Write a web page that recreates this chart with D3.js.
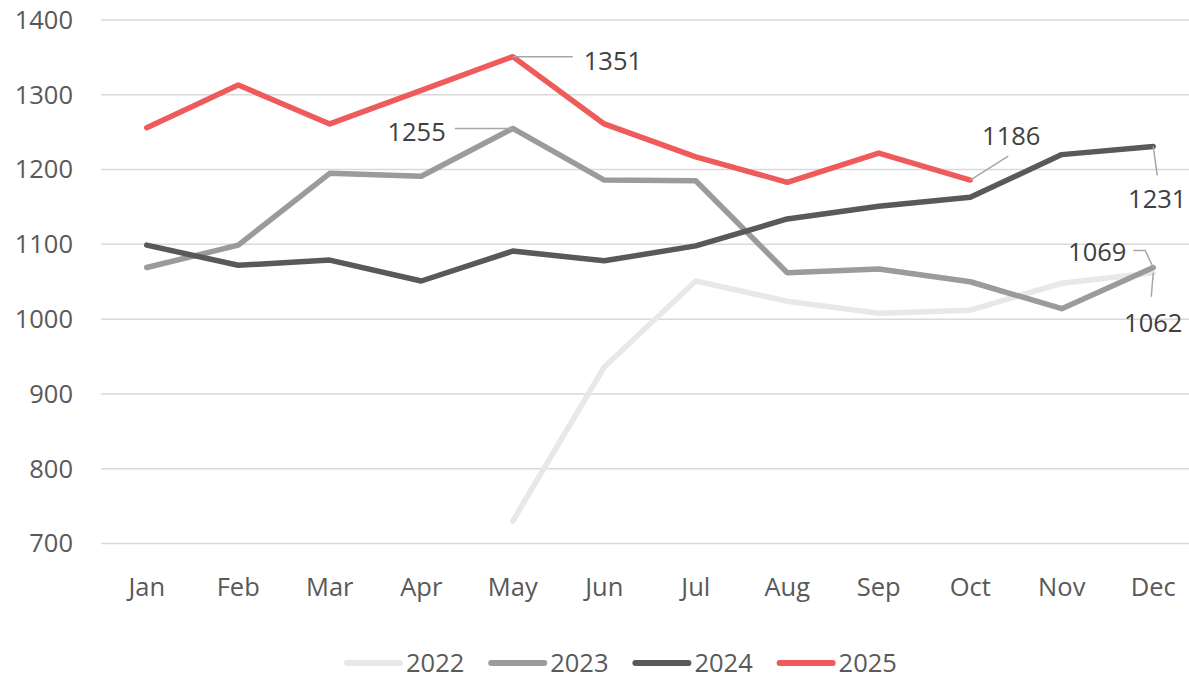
<!DOCTYPE html>
<html>
<head>
<meta charset="utf-8">
<script src="https://cdn.jsdelivr.net/npm/d3@7"></script>
<style>
body{margin:0;background:#fff;}
svg{display:block;font-family:"Open Sans","Noto Sans",sans-serif;}
</style>
</head>
<body>
<svg id="chart" width="1189" height="678"></svg>
<script>
// data
const months=["Jan","Feb","Mar","Apr","May","Jun","Jul","Aug","Sep","Oct","Nov","Dec"];
const yTicks=[700,800,900,1000,1100,1200,1300,1400];
const v2022=[null,null,null,null,730,936,1051,1024,1008,1012,1048,1062];
const v2023=[1069,1099,1195,1191,1255,1186,1185,1062,1067,1050,1014,1069];
const v2024=[1099,1072,1079,1051,1091,1078,1098,1134,1151,1163,1220,1231];
const v2025=[1256,1313,1261,1306,1351,1261,1217,1183,1222,1186,null,null];

const series=[
  {name:"2022",values:v2022,color:"#e8e8e8"},
  {name:"2023",values:v2023,color:"#9b9b9b"},
  {name:"2024",values:v2024,color:"#595959"},
  {name:"2025",values:v2025,color:"#ef5a5a"}
];

// callouts: series, month index, label offset and leader path offsets
const callouts=[
  {s:3,i:4,tx:71,ty:4,anchor:"start",leader:[[0,0],[60,0]]},
  {s:1,i:4,tx:-67,ty:4,anchor:"end",leader:[[0,0],[-58,0]]},
  {s:3,i:9,tx:41,ty:-44,anchor:"middle",leader:[[0,0],[38,-24]]},
  {s:2,i:11,tx:4,ty:53,anchor:"middle",leader:[[0,0],[4,29]]},
  {s:1,i:11,tx:-56,ty:-15,anchor:"middle",leader:[[0,0],[-8,-17],[-20,-17]]},
  {s:0,i:11,tx:0,ty:50,anchor:"middle",leader:[[0,0],[-2,24]]}
];

const fs=25.5;
const svg=d3.select("#chart");
const x=d3.scaleBand().domain(months).range([101,1199]);
const y=d3.scaleLinear().domain([700,1400]).range([543.5,20]);
const cx=m=>x(m)+x.bandwidth()/2;

// gridlines
svg.append("g").selectAll("line").data(yTicks).join("line")
  .attr("x1",101).attr("x2",1199)
  .attr("y1",d=>y(d)).attr("y2",d=>y(d))
  .attr("stroke","#d9d9d9").attr("stroke-width",1.5);

// y labels
svg.append("g").selectAll("text").data(yTicks).join("text")
  .attr("x",73).attr("y",d=>y(d)).attr("dy","0.35em")
  .attr("text-anchor","end").attr("font-size",fs).attr("fill","#595959")
  .text(d=>d);

// x labels
svg.append("g").selectAll("text").data(months).join("text")
  .attr("x",d=>cx(d)).attr("y",596)
  .attr("text-anchor","middle").attr("font-size",fs).attr("fill","#595959")
  .text(d=>d);

const line=d3.line()
  .defined(d=>d.v!=null)
  .x(d=>cx(d.m)).y(d=>y(d.v));

svg.append("g").selectAll("path").data(series).join("path")
  .attr("d",s=>line(s.values.map((v,i)=>({m:months[i],v:v}))))
  .attr("fill","none").attr("stroke",s=>s.color)
  .attr("stroke-width",5.5).attr("stroke-linejoin","round").attr("stroke-linecap","round");

// callouts
const cg=svg.append("g");
callouts.forEach(c=>{
  const px=cx(months[c.i]),py=y(series[c.s].values[c.i]);
  cg.append("path")
    .attr("d",d3.line()(c.leader.map(p=>[px+p[0],py+p[1]])))
    .attr("fill","none").attr("stroke","#a6a6a6").attr("stroke-width",1.5);
  cg.append("text")
    .attr("x",px+c.tx).attr("y",py+c.ty).attr("dy","0.35em")
    .attr("text-anchor",c.anchor).attr("font-size",fs).attr("fill","#404040")
    .text(series[c.s].values[c.i]);
});

// legend
const lg=svg.append("g").attr("transform","translate(347,663)");
const item=lg.selectAll("g").data(series).join("g")
  .attr("transform",(d,i)=>`translate(${i*144.2},0)`);
item.append("line").attr("x1",0).attr("x2",53).attr("y1",0).attr("y2",0)
  .attr("stroke",d=>d.color).attr("stroke-width",6).attr("stroke-linecap","round");
item.append("text").attr("x",59).attr("y",0).attr("dy","0.35em")
  .attr("font-size",fs).attr("fill","#595959").text(d=>d.name);
</script>
</body>
</html>
